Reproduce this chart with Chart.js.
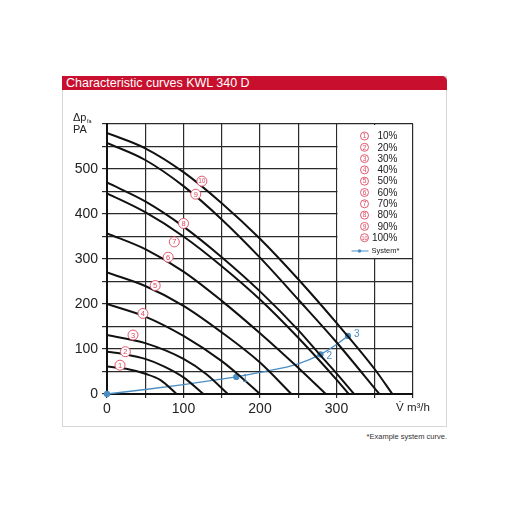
<!DOCTYPE html>
<html>
<head>
<meta charset="utf-8">
<script src="https://cdn.jsdelivr.net/npm/chart.js@4.4.1/dist/chart.umd.min.js"></script>
<style>
  body { margin: 0; background: #fff; }
  #panel { position: absolute; left: 62px; top: 76px; width: 385px; height: 351px; border: 1px solid #d6d6d6; box-sizing: border-box; }
  #title { position: absolute; left: 62px; top: 76px; width: 385px; height: 14px; background: #c8102e; color: #fff;
           font: 12.5px "Liberation Sans", Arial, sans-serif; line-height: 14px; padding-left: 4px; box-sizing: border-box;
           border-top-right-radius: 5px; }
  #note { position: absolute; right: 65px; top: 432px; font: 7.5px "Liberation Sans", Arial, sans-serif; color: #333; }
  #chart { position: absolute; left: 0; top: 0; }
</style>
</head>
<body>
<div id="panel"></div>
<div id="title">Characteristic curves KWL 340 D</div>
<div id="note">*Example system curve.</div>
<canvas id="chart" width="512" height="512"></canvas>
<script>
// fan curves: [flow m3/h, pressure Pa]
const curve1 = [[0, 61], [25, 56], [50, 45], [70, 31], [91, 0]];
const curve2 = [[0, 94], [25, 88], [50, 78], [75, 61], [100, 37], [126, 0]];
const curve3 = [[0, 131], [50, 113], [100, 78], [130, 44], [158, 0]];
const curve4 = [[0, 200], [50, 172], [100, 129], [150, 73], [175, 38], [200, 0]];
const curve5 = [[0, 270], [50, 240], [100, 196], [150, 137], [200, 70], [241, 0]];
const curve6 = [[0, 357], [50, 322], [100, 272], [150, 207], [200, 135], [245, 66], [286, 0]];
const curve7 = [[0, 446], [50, 404], [100, 350], [150, 284], [200, 210], [250, 125], [300, 32], [316, 0]];
const curve8 = [[0, 470], [50, 428], [100, 372], [150, 304], [200, 228], [250, 142], [279, 86], [300, 46], [323, 0]];
const curve9 = [[0, 558], [50, 520], [100, 462], [150, 388], [200, 303], [250, 210], [300, 115], [356, 0]];
const curve10 = [[0, 580], [50, 546], [100, 493], [150, 424], [200, 345], [250, 255], [300, 158], [350, 55], [373, 0]];
const curves = [curve1, curve2, curve3, curve4, curve5, curve6, curve7, curve8, curve9, curve10];
const curveNames = ['10%', '20%', '30%', '40%', '50%', '60%', '70%', '80%', '90%', '100%'];

// where the circled numbers sit on the chart
const labelFlow = [17, 24, 34, 47, 63, 80, 88, 100, 116, 124];
const labelPressure = [64, 94, 131, 179, 241, 304, 338, 379, 444, 473];

// example system curve
const systemFlow = [0, 50, 100, 169, 200, 250, 279, 300, 315];
const systemPressure = [0, 10, 21, 38, 48, 67, 88, 110, 129];
const systemMarks = [0, 3, 6, 8];
const systemNames = ['', '1', '2', '3'];

const xTickLabels = [0, 100, 200, 300];
const yTickLabels = [0, 100, 200, 300, 400, 500];
const xUnit = 'V\u0307 m\u00b3/h';

const RED = '#e0475f';
const BLUE = '#4a8dc3';
const FONT = '"Liberation Sans", Arial, sans-serif';

function circled(ctx, x, y, r, num, size) {
	ctx.beginPath();
	ctx.arc(x, y, r, 0, Math.PI * 2);
	ctx.fillStyle = '#fff';
	ctx.fill();
	ctx.lineWidth = 0.9;
	ctx.strokeStyle = RED;
	ctx.stroke();
	ctx.fillStyle = RED;
	ctx.font = size + 'px ' + FONT;
	ctx.textAlign = 'center';
	ctx.textBaseline = 'middle';
	ctx.fillText(num, x, y + 0.5);
}

const extras = {
	id: 'extras',
	beforeDatasetsDraw(chart) {
		// legend box: wipe the grid inside x 300..400, y 300..600
		const ctx = chart.ctx, xs = chart.scales.x, ys = chart.scales.y;
		ctx.save();
		ctx.fillStyle = '#fff';
		const l = xs.getPixelForValue(300) + 1, r = xs.getPixelForValue(400) - 1;
		const t = ys.getPixelForValue(600) + 1, b = ys.getPixelForValue(300) - 1;
		ctx.fillRect(l, t, r - l, b - t);
		ctx.restore();
	},
	afterDraw(chart) {
		const ctx = chart.ctx, xs = chart.scales.x, ys = chart.scales.y;
		const area = chart.chartArea;
		ctx.save();

		// curve numbers
		for (let i = 0; i < curves.length; i++) {
			circled(ctx, xs.getPixelForValue(labelFlow[i]), ys.getPixelForValue(labelPressure[i]), 5, String(i + 1), i == 9 ? 6.5 : 7.5);
		}

		// system point numbers
		ctx.fillStyle = BLUE;
		ctx.font = '10px ' + FONT;
		ctx.textAlign = 'left';
		ctx.textBaseline = 'middle';
		for (let k = 1; k < systemMarks.length; k++) {
			const j = systemMarks[k];
			ctx.fillText(systemNames[k], xs.getPixelForValue(systemFlow[j]) + 6, ys.getPixelForValue(systemPressure[j]) + (k == 3 ? -2 : 2));
		}

		// legend
		const lx = xs.getPixelForValue(300);
		for (let i = 0; i < curveNames.length; i++) {
			const cy = area.top + 12 + i * 11.3;
			circled(ctx, lx + 28, cy, 4, String(i + 1), i == 9 ? 5.5 : 6.5);
			ctx.fillStyle = '#222';
			ctx.font = '10px ' + FONT;
			ctx.textAlign = 'right';
			ctx.textBaseline = 'middle';
			ctx.fillText(curveNames[i], lx + 61, cy + 0.5);
		}
		const sy = area.top + 127;
		ctx.strokeStyle = BLUE;
		ctx.lineWidth = 1;
		ctx.beginPath();
		ctx.moveTo(lx + 15, sy);
		ctx.lineTo(lx + 32, sy);
		ctx.stroke();
		ctx.fillStyle = BLUE;
		ctx.beginPath();
		ctx.arc(lx + 23, sy, 1.8, 0, Math.PI * 2);
		ctx.fill();
		ctx.fillStyle = '#222';
		ctx.font = '7.5px ' + FONT;
		ctx.textAlign = 'left';
		ctx.fillText('System*', lx + 35, sy);

		// y axis title
		ctx.fillStyle = '#222';
		ctx.textAlign = 'left';
		ctx.textBaseline = 'alphabetic';
		ctx.font = '11px ' + FONT;
		ctx.fillText('\u0394p', 73, 121);
		ctx.font = '5.5px ' + FONT;
		ctx.fillText('fa', 87, 123);
		ctx.font = '11px ' + FONT;
		ctx.fillText('PA', 73, 133);
		ctx.restore();
	}
};

const datasets = curves.map(function(c, i) {
	return {
		label: curveNames[i],
		data: c.map(p => ({x: p[0], y: p[1]})),
		showLine: true,
		borderColor: '#111',
		borderWidth: 2,
		pointRadius: 0,
		cubicInterpolationMode: 'monotone',
		fill: false
	};
});
datasets.push({
	label: 'System*',
	data: systemFlow.map((f, i) => ({x: f, y: systemPressure[i]})),
	showLine: true,
	borderColor: BLUE,
	backgroundColor: BLUE,
	borderWidth: 1.3,
	pointRadius: systemFlow.map((f, i) => systemMarks.includes(i) ? 2.5 : 0),
	cubicInterpolationMode: 'monotone',
	clip: false,
	fill: false
});

new Chart(document.getElementById('chart'), {
	type: 'scatter',
	data: { datasets: datasets },
	options: {
		responsive: false,
		animation: false,
		devicePixelRatio: 1,
		layout: { padding: { left: 0, right: 99, top: 124, bottom: 0 } },
		plugins: { legend: { display: false }, tooltip: { enabled: false } },
		scales: {
			x: {
				type: 'linear', min: 0, max: 400,
				afterFit: function(s) { s.height = 118; },
				ticks: {
					stepSize: 50, autoSkip: false, maxRotation: 0, padding: 3, color: '#222',
					font: function(c) { return { family: FONT, size: (c.tick && c.tick.value == 400) ? 11.5 : 14 }; },
					callback: function(v) { return xTickLabels.includes(v) ? String(v) : (v == 400 ? xUnit : ''); }
				},
				grid: { color: '#2a2a2a', lineWidth: 1.2, tickLength: 4 },
				border: { color: '#111', width: 2 }
			},
			y: {
				type: 'linear', min: 0, max: 600,
				afterFit: function(s) { s.width = 107; },
				ticks: {
					stepSize: 50, padding: 4, color: '#222',
					font: { family: FONT, size: 14 },
					callback: function(v) { return yTickLabels.includes(v) ? String(v) : ''; }
				},
				grid: { color: '#2a2a2a', lineWidth: 1.2, tickLength: 5 },
				border: { color: '#111', width: 2 }
			}
		}
	},
	plugins: [extras]
});
</script>
</body>
</html>
